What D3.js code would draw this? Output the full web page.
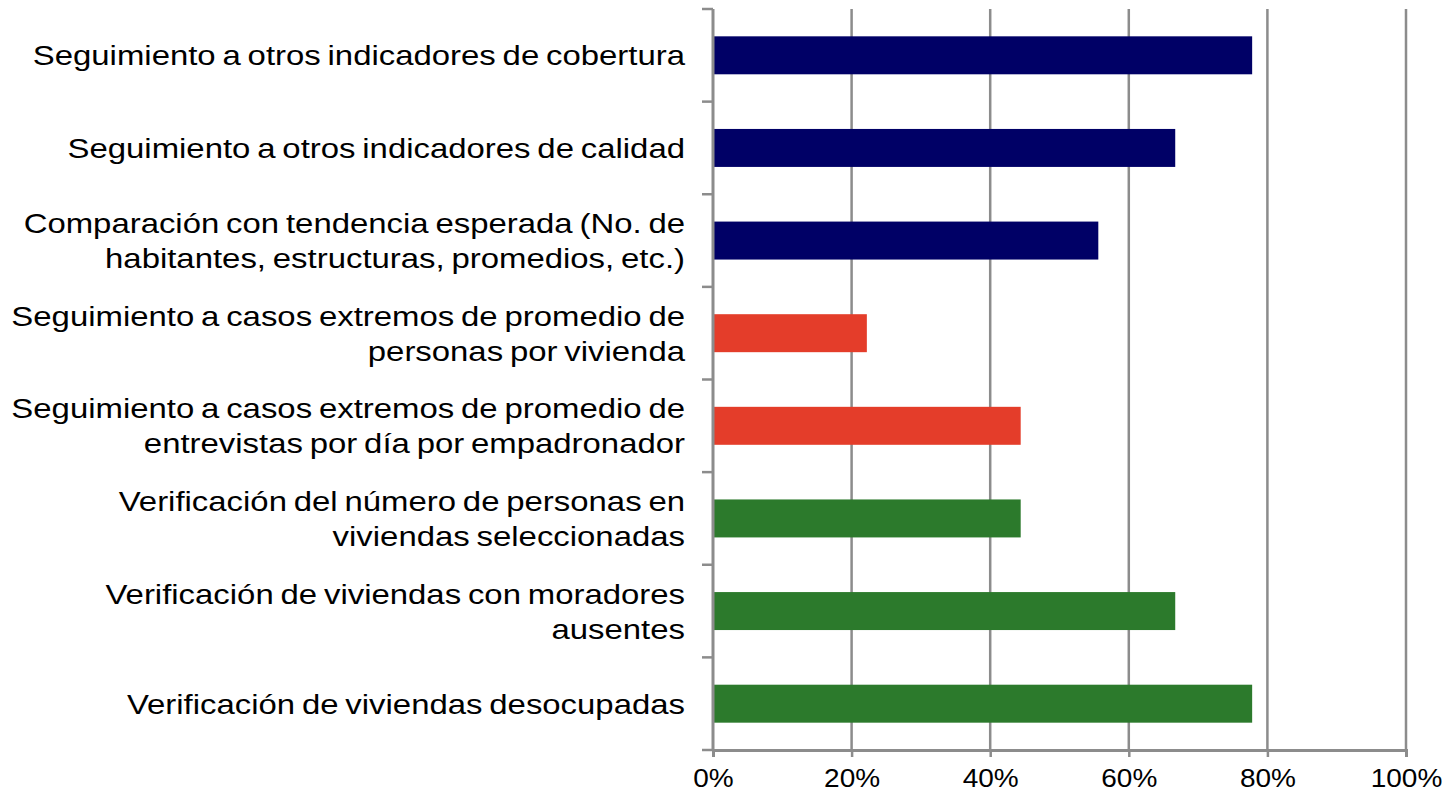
<!DOCTYPE html>
<html>
<head>
<meta charset="utf-8">
<script src="https://cdn.jsdelivr.net/npm/d3@7"></script>
<style>
  body { margin: 0; background: #fff; }
  svg { font-family: "Liberation Sans", Arial, sans-serif; }
</style>
</head>
<body>
<svg></svg>
<script>
// data, top to bottom
let categories = [
  ["Seguimiento a otros indicadores de cobertura"],
  ["Seguimiento a otros indicadores de calidad"],
  ["Comparación con tendencia esperada (No. de", "habitantes, estructuras, promedios, etc.)"],
  ["Seguimiento a casos extremos de promedio de", "personas por vivienda"],
  ["Seguimiento a casos extremos de promedio de", "entrevistas por día por empadronador"],
  ["Verificación del número de personas en", "viviendas seleccionadas"],
  ["Verificación de viviendas con moradores", "ausentes"],
  ["Verificación de viviendas desocupadas"]
];
let values = [0.778, 0.667, 0.556, 0.222, 0.444, 0.444, 0.667, 0.778];
let groups = ["a", "a", "a", "b", "b", "c", "c", "c"];
let xTicks = [0, 0.2, 0.4, 0.6, 0.8, 1.0];

// margin convention
let margin = { top: 9, right: 44, bottom: 42, left: 713 };
let width = 1450 - margin.left - margin.right,
    height = 792 - margin.top - margin.bottom;

let svg = d3.select('svg')
  .attr('width', 1450)
  .attr('height', 792)
.append('g')
  .attr('transform', `translate(${margin.left},${margin.top})`);

let xScale = d3.scaleLinear()
  .domain([0, 1])
  .range([0, width]);
let yScale = d3.scaleBand()
  .domain(d3.range(categories.length))
  .range([0, height])
  .padding(0);

let color = d3.scaleOrdinal()
  .domain(["a", "b", "c"])
  .range(["#000066", "#E43D2A", "#2C7A2C"]);

// vertical gridlines
svg.append('g')
  .selectAll('line')
  .data(xTicks.slice(1))
  .enter()
  .append('line')
    .attr('x1', d => xScale(d))
    .attr('x2', d => xScale(d))
    .attr('y1', 0)
    .attr('y2', height)
    .style('stroke', '#8c8c8c')
    .style('stroke-width', 2.5);

// bars
let barH = yScale.bandwidth() * 0.41;
svg.append('g')
  .selectAll('rect')
  .data(values)
  .enter()
  .append('rect')
    .attr('x', 0)
    .attr('y', (d, i) => yScale(i) + (yScale.bandwidth() - barH) / 2)
    .attr('width', d => xScale(d))
    .attr('height', barH)
    .style('fill', (d, i) => color(groups[i]));

// x axis
let xAxis = svg.append('g')
  .attr('transform', `translate(0,${height})`)
  .call(d3.axisBottom(xScale)
    .tickValues(xTicks)
    .tickFormat(d3.format('.0%'))
    .tickSize(7)
    .tickPadding(12));
xAxis.select('.domain').style('stroke', '#8c8c8c').style('stroke-width', 3);
xAxis.selectAll('.tick line').style('stroke', '#8c8c8c').style('stroke-width', 2.5);
xAxis.selectAll('.tick text')
  .style('font-size', '25px')
  .style('fill', '#000')
  .style('font-family', '"Liberation Sans", Arial, sans-serif')
  .attr('transform', 'scale(1.12,1)');

// y axis line and ticks between categories
let yEdges = d3.range(categories.length + 1).map(i => i * yScale.step());
svg.append('line')
  .attr('x1', 0).attr('x2', 0)
  .attr('y1', 0).attr('y2', height)
  .style('stroke', '#8c8c8c')
  .style('stroke-width', 3);
svg.append('g')
  .selectAll('line')
  .data(yEdges)
  .enter()
  .append('line')
    .attr('x1', -11).attr('x2', 0)
    .attr('y1', d => d).attr('y2', d => d)
    .style('stroke', '#8c8c8c')
    .style('stroke-width', 2.5);

// category labels (reference text is drawn a bit wider than tall)
let lineH = 35;
let labels = svg.append('g')
  .selectAll('text')
  .data(categories)
  .enter()
  .append('text')
    .attr('text-anchor', 'end')
    .style('font-size', '28.5px')
    .style('word-spacing', '-2px')
    .style('fill', '#000')
    .attr('transform', (d, i) => {
      let y = yScale(i) + yScale.bandwidth() / 2 - (d.length - 1) * lineH / 2 + 10;
      return `translate(-28,${y}) scale(1.155,1)`;
    });
labels.selectAll('tspan')
  .data(d => d)
  .enter()
  .append('tspan')
    .attr('x', 0)
    .attr('dy', (d, j) => j === 0 ? 0 : lineH)
    .text(d => d);
</script>
</body>
</html>
